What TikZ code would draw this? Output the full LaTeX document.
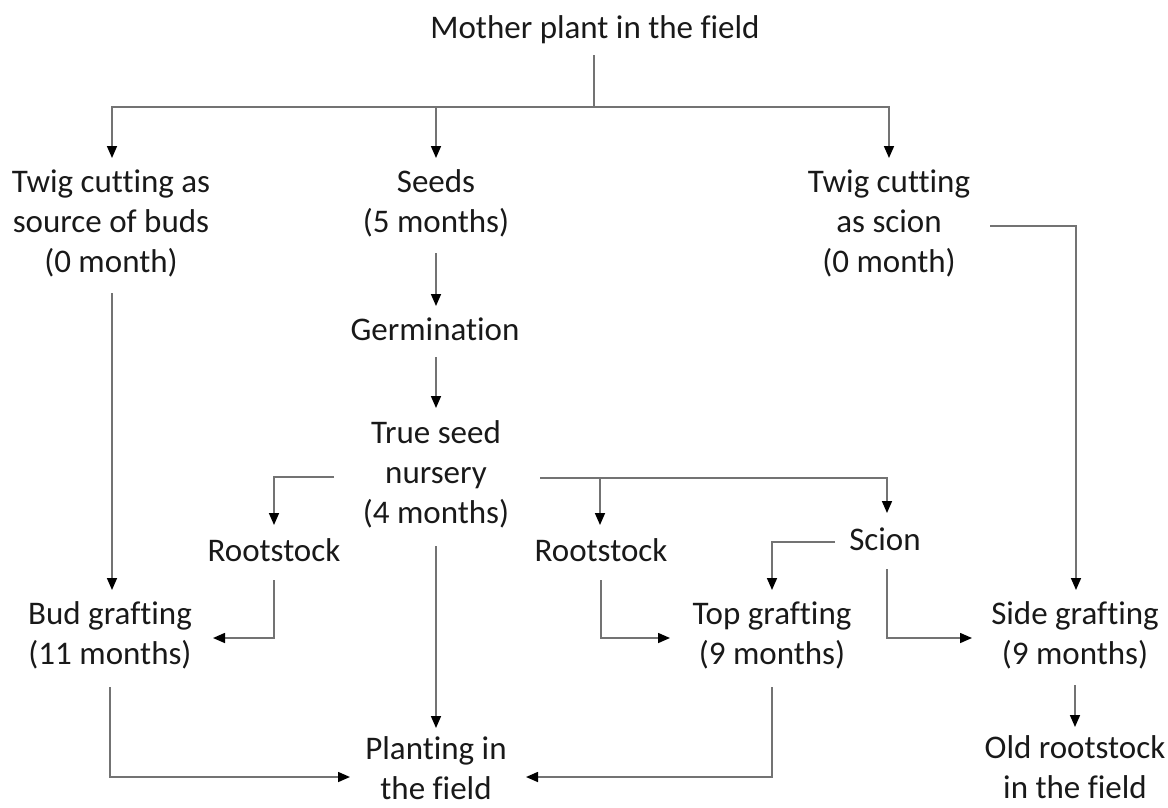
\documentclass[tikz,border=0pt]{standalone}
\usepackage{fontspec}
\setmainfont{Carlito}[Ligatures={NoCommon}]
\usetikzlibrary{arrows.meta,calc}
\begin{document}
\begin{tikzpicture}[x=1pt,y=-1pt,
  lbl/.style={align=center,inner sep=0pt,outer sep=0pt,text=black!90,
    font=\fontsize{33}{40}\selectfont,
    execute at begin node=\strut, execute at end node=\strut},
  ln/.style={draw=black!55,line width=1.6pt},
  arr/.style={ln,-{Triangle[width=10pt,length=12pt,color=black]}}]
\useasboundingbox (0,0) rectangle (1168,807);
% nodes
\node[lbl] (mother)  at (595,30)  {Mother plant in the field};
\node[lbl] (twigL)   at (111,227) {Twig cutting as\\source of buds\\(0 month)};
\node[lbl] (seeds)   at (436,207) {Seeds\\(5 months)};
\node[lbl] (twigR)   at (889,227) {Twig cutting\\as scion\\(0 month)};
\node[lbl] (germ)    at (435,332) {Germination};
\node[lbl] (nursery) at (436,478) {True seed\\nursery\\(4 months)};
\node[lbl] (rootL)   at (274,553) {Rootstock};
\node[lbl] (rootR)   at (601,553) {Rootstock};
\node[lbl] (scion)   at (885,542) {Scion};
\node[lbl] (bud)     at (110,639) {Bud grafting\\(11 months)};
\node[lbl] (top)     at (772,639) {Top grafting\\(9 months)};
\node[lbl] (side)    at (1075,639) {Side grafting\\(9 months)};
\node[lbl] (plant)   at (436,774) {Planting in\\the field};
\node[lbl] (old)     at (1075,773) {Old rootstock\\in the field};
% connectors
\coordinate (j) at ($(mother)+(-1,77)$);
\draw[ln] ($(mother)+(-1,25)$) -- (j);
\draw[arr] (j) -| ($(twigL)+(1,-69)$);
\draw[arr] (j) -| ($(twigR)+(0,-69)$);
\draw[arr] ($(seeds)+(0,-100)$) -- ($(seeds)+(0,-49)$);
\draw[arr] ($(seeds)+(0,46)$) -- ($(germ)+(1,-26)$);
\draw[arr] ($(germ)+(1,25)$) -- ($(nursery)+(0,-70)$);
\draw[arr] ($(nursery)+(-102,-1)$) -| ($(rootL)+(0,-28)$);
\draw[arr] ($(nursery)+(104,0)$) -| ($(scion)+(2,-29)$);
\draw[arr] ($(rootR)+(-1,-75)$) -- ($(rootR)+(-1,-28)$);
\draw[arr] ($(nursery)+(0,68)$) -- ($(plant)+(0,-46)$);
\draw[arr] ($(rootL)+(0,27)$) |- ($(bud)+(103,-1)$);
\draw[arr] ($(twigL)+(1,66)$) -- ($(bud)+(2,-49)$);
\draw[arr] ($(bud)+(0,48)$) |- ($(plant)+(-86,3)$);
\draw[arr] ($(rootR)+(0,27)$) |- ($(top)+(-102,-1)$);
\draw[arr] ($(scion)+(-50,0)$) -| ($(top)+(0,-49)$);
\draw[arr] ($(scion)+(2,27)$) |- ($(side)+(-103,-1)$);
\draw[arr] ($(twigR)+(101,-1)$) -| ($(side)+(1,-49)$);
\draw[arr] ($(top)+(0,48)$) |- ($(plant)+(90,3)$);
\draw[arr] ($(side)+(0,46)$) -- ($(old)+(0,-46)$);
\end{tikzpicture}
\end{document}
